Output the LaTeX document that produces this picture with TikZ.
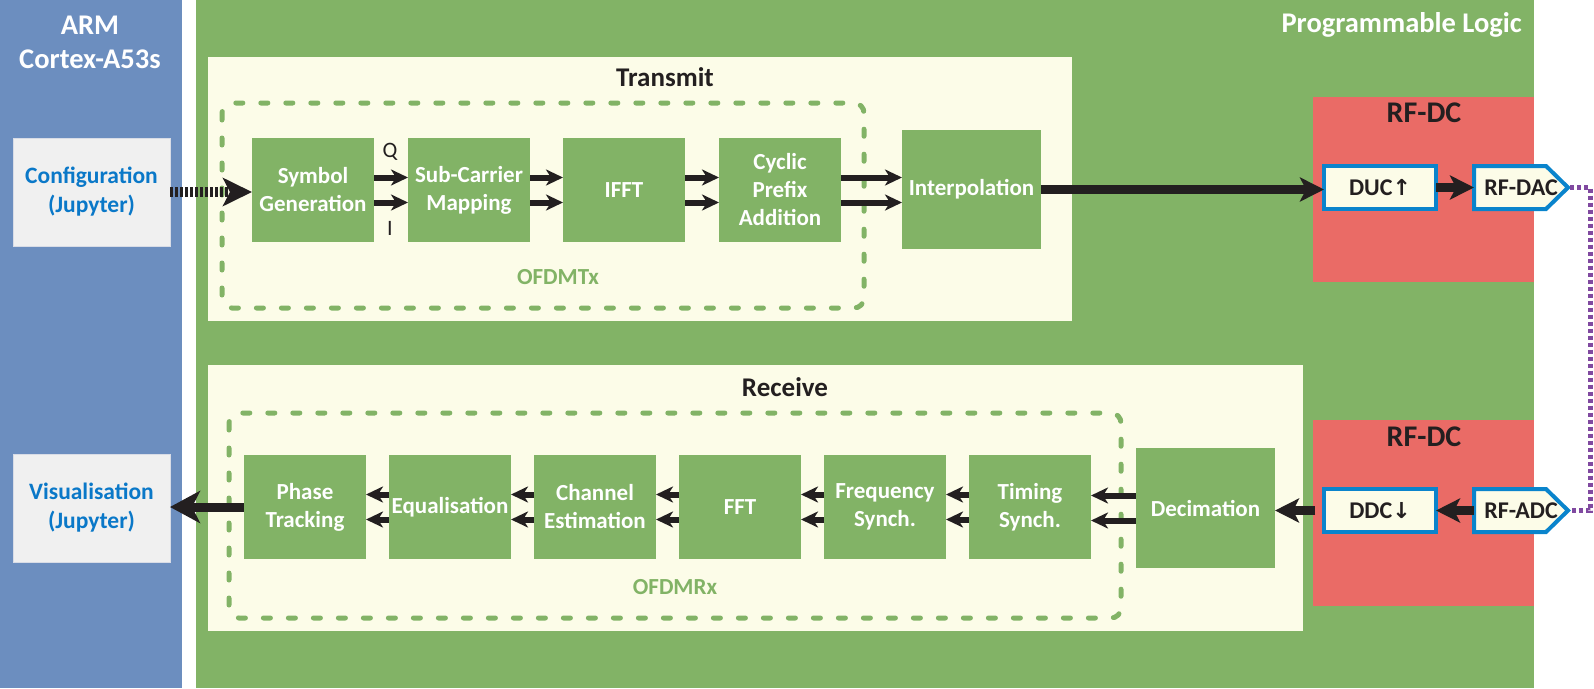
\documentclass[tikz,border=0pt]{standalone}
\usepackage{fontspec}
\setmainfont{Carlito}
\newfontfamily\symf{DejaVu Sans}
\usetikzlibrary{arrows.meta,calc}
\definecolor{bluepanel}{HTML}{6C8EBF}
\definecolor{greenpanel}{HTML}{82B366}
\definecolor{boxgreen}{HTML}{82B366}
\definecolor{creamc}{HTML}{FCFCE8}
\definecolor{redc}{HTML}{EA6B66}
\definecolor{grayc}{HTML}{F0F0F0}
\definecolor{grayborder}{HTML}{D8DCE6}
\definecolor{textblue}{HTML}{0A78C8}
\definecolor{darkc}{HTML}{231F20}
\definecolor{ducblue}{HTML}{0A84CC}
\definecolor{purplec}{HTML}{8049A0}
\pgfdeclarelayer{back}
\pgfsetlayers{back,main}
\begin{document}
\begin{tikzpicture}[x=1pt,y=-1pt,
  gbox/.style={fill=boxgreen, text=white, font=\fontsize{23}{28}\selectfont\bfseries,
    align=center, inner sep=0pt, outer sep=0pt, anchor=north west,
    minimum width=122pt, minimum height=104pt},
  jbox/.style={fill=grayc, draw=grayborder, line width=1pt, text=textblue,
    font=\fontsize{23.5}{29}\selectfont\bfseries, align=center, inner sep=0pt,
    outer sep=0pt, anchor=north west, minimum width=157pt, minimum height=108pt},
  rfbox/.style={fill=creamc, draw=ducblue, line width=4pt, text=darkc,
    font=\fontsize{24}{28}\selectfont\bfseries, inner sep=0pt, outer sep=0pt,
    anchor=north west, minimum width=112pt, minimum height=43pt},
  sigbox/.style={text=darkc, font=\fontsize{24}{28}\selectfont\bfseries,
    inner sep=0pt, outer sep=0pt, anchor=north west,
    minimum width=94pt, minimum height=43pt},
  header/.style={text=darkc, font=\fontsize{27}{34}\selectfont\bfseries, inner sep=0pt},
  rfheader/.style={text=darkc, font=\fontsize{30}{34}\selectfont\bfseries, inner sep=0pt},
  wheader/.style={text=white, font=\fontsize{28.5}{34}\selectfont\bfseries, inner sep=0pt, align=center},
  grouplabel/.style={text=boxgreen, font=\fontsize{23}{28}\selectfont\bfseries, inner sep=0pt},
  iqlabel/.style={text=darkc, font=\fontsize{22}{25}\selectfont, inner sep=0pt},
  dashbox/.style={draw=boxgreen, line width=5pt, dash pattern=on 7pt off 18pt,
    line cap=round, rounded corners=10pt},
  arr/.style={draw=darkc, line width=6pt, -{Stealth[length=17pt,width=16pt,inset=5pt]}},
  bigarr/.style={draw=darkc, line width=9pt, -{Stealth[length=24pt,width=24pt,inset=6pt]}},
  visarr/.style={draw=darkc, line width=9pt, -{Stealth[length=30pt,width=32pt,inset=8pt]}},
  cfgarr/.style={draw=darkc, line width=10pt, dash pattern=on 3pt off 2pt,
    -{Stealth[length=29pt,width=28pt,inset=7pt]}},
  purp/.style={draw=purplec, line width=5pt, dash pattern=on 4pt off 3pt},
  pent/.style={fill=creamc, draw=ducblue, line width=4pt, line join=miter}
]
\useasboundingbox (0,0) rectangle (1594,688);

% panels
\begin{pgfonlayer}{back}
\fill[bluepanel] (0,0) rectangle (182,688);
\fill[greenpanel] (196,0) rectangle (1534,688);
\fill[creamc] (208,57) rectangle (1072,321);
\fill[creamc] (208,365) rectangle (1303,631);
\fill[redc] (1313,97) rectangle (1534,282);
\fill[redc] (1313,420) rectangle (1534,606);
\draw[dashbox] (222,103) rectangle (864,308);
\draw[dashbox] (229,413) rectangle (1121,618);
\end{pgfonlayer}

% headers
\node[wheader] (arm) at (90,42) {ARM\\Cortex-A53s};
\node[wheader, anchor=east] (pl) at (1522,25) {Programmable Logic};
\node[header] (txh) at (665,77) {Transmit};
\node[header] (rxh) at (785,387) {Receive};
\node[rfheader] (rf1) at (1424,113) {RF-DC};
\node[rfheader] (rf2) at (1424,437) {RF-DC};
\node[grouplabel] (otx) at (558,277) {OFDMTx};
\node[grouplabel] (orx) at (675,587) {OFDMRx};

% ARM side boxes
\node[jbox] (cfg) at (13,138) {Configuration\\(Jupyter)};
\node[jbox] (vis) at (13,454) {Visualisation\\(Jupyter)};

% transmit chain
\node[gbox] (sym) at (252,138) {Symbol\\Generation};
\node[gbox] (sub) at (408,138) {Sub-Carrier\\Mapping};
\node[gbox] (ifft) at (563,138) {IFFT};
\node[gbox] (cyc) at (719,138) {Cyclic\\Prefix\\Addition};
\node[gbox, minimum width=139pt, minimum height=119pt] (interp) at (902,130) {Interpolation};
\node[iqlabel] (q) at (390,152) {Q};
\node[iqlabel] (i) at (390,228) {I};

% receive chain
\node[gbox] (ph) at (244,455) {Phase\\Tracking};
\node[gbox] (eq) at (389,455) {Equalisation};
\node[gbox] (chn) at (534,455) {Channel\\Estimation};
\node[gbox] (fft) at (679,455) {FFT};
\node[gbox] (frq) at (824,455) {Frequency\\Synch.};
\node[gbox] (tim) at (969,455) {Timing\\Synch.};
\node[gbox, minimum width=139pt, minimum height=120pt] (dec) at (1136,448) {Decimation};

% RF-DC blocks
\node[rfbox] (duc) at (1324,166) {DUC{\symf\fontsize{22}{26}\selectfont↑}};
\node[rfbox] (ddc) at (1324,489) {DDC{\symf\fontsize{22}{26}\selectfont↓}};
\node[sigbox] (dac) at (1474,166) {RF-DAC};
\node[sigbox] (adc) at (1474,489) {RF-ADC};
\begin{pgfonlayer}{back}
\draw[pent] (dac.north west) -- ([xshift=-22pt]dac.north east) -- (dac.east)
  -- ([xshift=-22pt]dac.south east) -- (dac.south west) -- cycle;
\draw[pent] (adc.north west) -- ([xshift=-22pt]adc.north east) -- (adc.east)
  -- ([xshift=-22pt]adc.south east) -- (adc.south west) -- cycle;
\end{pgfonlayer}

% connectors: transmit
\draw[cfgarr] (cfg.east) -- (cfg.east -| sym.west);
\foreach \a/\b in {sym/sub, sub/ifft, ifft/cyc, cyc/interp}{
  \draw[arr] ([yshift=12.5pt]\a.east) -- ([yshift=12.5pt]\a.east -| \b.west);
  \draw[arr] ([yshift=-12.5pt]\a.east) -- ([yshift=-12.5pt]\a.east -| \b.west);
}
\draw[bigarr] (interp.east) -- (interp.east -| duc.west);
\draw[bigarr] (duc.east) -- (duc.east -| dac.west);

% connectors: receive
\draw[bigarr] (adc.west) -- (adc.west -| ddc.east);
\draw[bigarr] ([xshift=-9pt]ddc.west) -- (ddc.west -| dec.east);
\foreach \a/\b in {dec/tim, tim/frq, frq/fft, fft/chn, chn/eq, eq/ph}{
  \draw[arr] ([yshift=12.5pt]\a.west) -- ([yshift=12.5pt]\a.west -| \b.east);
  \draw[arr] ([yshift=-12.5pt]\a.west) -- ([yshift=-12.5pt]\a.west -| \b.east);
}
\draw[visarr] (ph.west) -- (ph.west -| vis.east);

% loopback
\draw[purp] ([xshift=2pt]dac.east) -- ++(20,0) |- ([xshift=2pt]adc.east);
\end{tikzpicture}
\end{document}
